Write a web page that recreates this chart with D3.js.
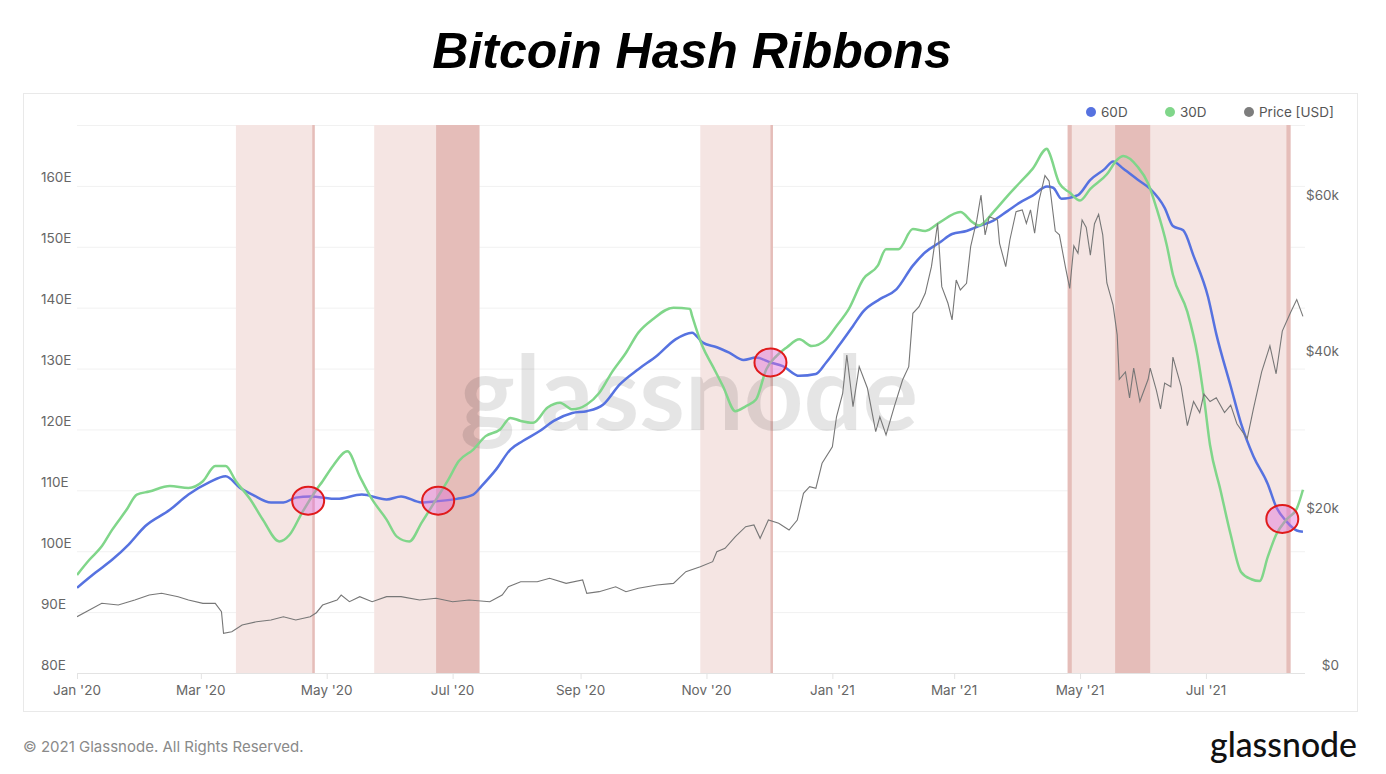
<!DOCTYPE html>
<html lang="en">
<head>
<meta charset="UTF-8">
<title>Bitcoin Hash Ribbons</title>
<script src="https://d3js.org/d3.v7.min.js"></script>
<style>
    body { margin: 0; background: #fff; }
    svg { display: block; }
</style>
</head>
<body>
<svg id="viz"></svg>
<script>
    // hash rate moving averages (EH/s) and price
    var hr60 = [
        ["2020-01-01",94.0],["2020-01-10",96.5],["2020-01-18",98.6],["2020-01-26",101.1],["2020-02-03",104.1],
        ["2020-02-15",106.8],["2020-02-24",109.3],["2020-03-05",111.3],["2020-03-13",112.3],["2020-03-20",110.4],
        ["2020-03-26",109.3],["2020-04-04",108.0],["2020-04-10",108.0],["2020-04-16",108.8],["2020-04-23",109.0],
        ["2020-05-06",108.6],["2020-05-18",109.3],["2020-05-30",108.5],["2020-06-06",109.0],["2020-06-16",108.0],
        ["2020-06-23",108.2],["2020-07-03",108.6],["2020-07-11",109.3],["2020-07-15",110.7],["2020-07-22",113.4],
        ["2020-07-29",116.7],["2020-08-04",118.1],["2020-08-12",119.7],["2020-08-19",121.4],["2020-08-28",122.7],
        ["2020-09-04",123.0],["2020-09-12",124.1],["2020-09-20",127.4],["2020-09-29",129.9],["2020-10-08",132.1],
        ["2020-10-17",134.8],["2020-10-25",135.9],["2020-10-30",134.3],["2020-11-06",133.5],["2020-11-12",132.6],
        ["2020-11-19",131.4],["2020-11-25",131.8],["2020-12-02",131.0],["2020-12-08",130.4],["2020-12-16",128.8],
        ["2020-12-24",129.1],["2020-12-29",131.0],["2021-01-04",133.7],["2021-01-11",137.0],["2021-01-16",139.4],
        ["2021-01-24",141.4],["2021-02-01",143.0],["2021-02-09",146.9],["2021-02-15",149.1],["2021-02-22",150.7],
        ["2021-02-28",152.1],["2021-03-07",152.6],["2021-03-13",153.4],["2021-03-20",154.3],["2021-03-27",155.9],
        ["2021-04-02",157.3],["2021-04-08",158.4],["2021-04-15",159.9],["2021-04-18",159.7],["2021-04-22",157.9],
        ["2021-04-30",158.5],["2021-05-06",161.0],["2021-05-13",162.8],["2021-05-17",164.0],["2021-05-22",162.8],
        ["2021-05-29",161.0],["2021-06-04",159.5],["2021-06-11",156.4],["2021-06-15",153.4],["2021-06-20",152.7],
        ["2021-06-25",148.5],["2021-07-02",141.8],["2021-07-06",135.7],["2021-07-13",127.1],["2021-07-18",121.0],
        ["2021-07-24",115.6],["2021-07-31",111.0],["2021-08-04",107.3],["2021-08-09",104.9],["2021-08-14",103.4],
        ["2021-08-17",103.2]
    ];

    var hr30 = [
        ["2020-01-01",96.1],["2020-01-07",98.6],["2020-01-13",100.8],["2020-01-18",103.5],["2020-01-25",106.8],
        ["2020-01-30",109.3],["2020-02-05",109.8],["2020-02-15",110.7],["2020-02-24",110.4],["2020-03-02",111.5],
        ["2020-03-08",114.0],["2020-03-13",114.0],["2020-03-18",111.5],["2020-03-25",108.5],["2020-03-31",105.2],
        ["2020-04-08",101.6],["2020-04-13",102.7],["2020-04-19",106.3],["2020-04-26",110.1],["2020-04-29",111.5],
        ["2020-05-04",114.0],["2020-05-11",116.4],["2020-05-17",112.3],["2020-05-23",108.5],["2020-05-30",105.2],
        ["2020-06-04",102.4],["2020-06-10",101.6],["2020-06-16",104.7],["2020-06-23",108.5],["2020-06-29",111.8],
        ["2020-07-04",114.8],["2020-07-11",116.7],["2020-07-17",118.9],["2020-07-24",120.0],["2020-07-29",121.9],
        ["2020-08-03",121.4],["2020-08-09",121.1],["2020-08-16",123.6],["2020-08-22",124.4],["2020-08-28",123.3],
        ["2020-09-04",124.1],["2020-09-10",126.0],["2020-09-16",129.3],["2020-09-23",132.6],["2020-09-29",135.9],
        ["2020-10-06",138.1],["2020-10-16",140.0],["2020-10-24",139.8],["2020-10-25",138.7],["2020-10-30",133.7],
        ["2020-11-04",130.4],["2020-11-09",127.1],["2020-11-15",123.0],["2020-11-20",123.8],["2020-11-25",124.9],
        ["2020-11-30",129.9],["2020-12-05",132.1],["2020-12-10",133.5],["2020-12-16",134.8],["2020-12-22",133.7],
        ["2020-12-29",134.8],["2021-01-03",137.0],["2021-01-09",139.8],["2021-01-16",144.7],["2021-01-23",146.9],
        ["2021-01-27",149.6],["2021-02-02",149.6],["2021-02-09",152.9],["2021-02-15",152.6],["2021-02-22",154.0],
        ["2021-03-04",155.7],["2021-03-10",154.0],["2021-03-13",153.5],["2021-03-20",155.7],["2021-03-27",158.4],
        ["2021-04-02",160.6],["2021-04-08",162.8],["2021-04-15",166.1],["2021-04-16",165.5],["2021-04-21",160.4],
        ["2021-04-26",158.9],["2021-05-01",157.6],["2021-05-06",159.5],["2021-05-14",161.9],["2021-05-19",164.3],
        ["2021-05-22",164.9],["2021-05-29",163.1],["2021-06-03",160.4],["2021-06-07",156.4],["2021-06-12",150.3],
        ["2021-06-15",145.4],["2021-06-22",139.3],["2021-06-27",132.0],["2021-06-30",125.3],["2021-07-03",117.4],
        ["2021-07-08",110.1],["2021-07-13",102.7],["2021-07-18",96.6],["2021-07-23",95.4],["2021-07-27",95.1],
        ["2021-07-31",99.1],["2021-08-04",102.7],["2021-08-09",105.2],["2021-08-14",107.0],["2021-08-17",110.1]
    ];

    var price = [
        ["2020-01-01",7190],["2020-01-07",8050],["2020-01-13",8900],["2020-01-21",8680],["2020-01-29",9320],
        ["2020-02-05",9960],["2020-02-11",10180],["2020-02-19",9750],["2020-02-24",9320],["2020-03-02",8900],
        ["2020-03-08",8900],["2020-03-11",7830],["2020-03-12",5070],["2020-03-16",5280],["2020-03-21",6130],
        ["2020-03-28",6550],["2020-04-04",6770],["2020-04-10",7190],["2020-04-16",6770],["2020-04-23",7190],
        ["2020-04-26",7700],["2020-04-29",8680],["2020-05-06",9320],["2020-05-08",9960],["2020-05-12",9110],
        ["2020-05-17",9750],["2020-05-23",9110],["2020-05-30",9750],["2020-06-06",9750],["2020-06-15",9320],
        ["2020-06-23",9540],["2020-07-01",9110],["2020-07-09",9320],["2020-07-19",9110],["2020-07-25",9960],
        ["2020-07-28",11020],["2020-08-03",11660],["2020-08-11",11660],["2020-08-17",12100],["2020-08-25",11450],
        ["2020-09-02",11880],["2020-09-04",10180],["2020-09-10",10390],["2020-09-18",11020],["2020-09-23",10390],
        ["2020-09-29",10820],["2020-10-08",11240],["2020-10-16",11450],["2020-10-22",12940],["2020-10-29",13580],
        ["2020-11-04",14220],["2020-11-06",15490],["2020-11-10",15930],["2020-11-15",17410],["2020-11-20",18690],
        ["2020-11-24",18910],["2020-11-27",17200],["2020-12-01",19540],["2020-12-06",19120],["2020-12-11",18260],
        ["2020-12-15",19540],["2020-12-18",22950],["2020-12-21",23800],["2020-12-24",23590],["2020-12-27",26790],
        ["2021-01-01",28900],["2021-01-03",32730],["2021-01-06",35730],["2021-01-08",40620],["2021-01-11",34020],
        ["2021-01-14",39130],["2021-01-18",36370],["2021-01-22",30830],["2021-01-24",32730],["2021-01-27",30400],
        ["2021-01-31",34020],["2021-02-04",37430],["2021-02-07",39130],["2021-02-09",45940],["2021-02-12",46800],
        ["2021-02-15",48500],["2021-02-18",51900],["2021-02-21",57440],["2021-02-23",49350],["2021-02-26",47230],
        ["2021-02-28",45100],["2021-03-02",50200],["2021-03-04",48930],["2021-03-07",49780],["2021-03-09",54460],
        ["2021-03-12",57870],["2021-03-14",61060],["2021-03-16",55950],["2021-03-18",58290],["2021-03-22",57870],
        ["2021-03-23",54890],["2021-03-26",51900],["2021-03-28",55310],["2021-03-31",58930],["2021-04-03",59150],
        ["2021-04-05",57440],["2021-04-07",59150],["2021-04-09",56170],["2021-04-11",60230],["2021-04-14",63540],
        ["2021-04-16",62840],["2021-04-19",56450],["2021-04-21",55970],["2021-04-24",51740],["2021-04-26",49120],
        ["2021-04-28",54560],["2021-04-30",53620],["2021-05-02",57870],["2021-05-04",56920],["2021-05-06",53370],
        ["2021-05-08",57390],["2021-05-10",58580],["2021-05-12",55970],["2021-05-14",49820],["2021-05-17",46990],
        ["2021-05-19",43200],["2021-05-20",37520],["2021-05-23",38460],["2021-05-25",35150],["2021-05-27",38950],
        ["2021-05-30",34680],["2021-06-03",37520],["2021-06-04",38950],["2021-06-07",36100],["2021-06-09",33730],
        ["2021-06-11",37040],["2021-06-14",36570],["2021-06-15",40360],["2021-06-19",36570],["2021-06-22",31600],
        ["2021-06-25",34680],["2021-06-28",33260],["2021-06-30",35630],["2021-07-03",34680],["2021-07-06",35150],
        ["2021-07-10",33260],["2021-07-13",34210],["2021-07-16",31840],["2021-07-21",29950],["2021-07-24",33730],
        ["2021-07-28",38460],["2021-08-01",41780],["2021-08-04",38220],["2021-08-07",43670],["2021-08-11",46040],
        ["2021-08-14",47700],["2021-08-17",45560]
    ];

    // capitulation periods (light) and recovery / signal periods (dark)
    var lightBands = [["2020-03-18","2020-04-25"],["2020-05-24","2020-07-14"],
                      ["2020-10-29","2020-12-03"],["2021-04-25","2021-08-11"]];
    var darkBands = [["2020-04-24","2020-04-25"],["2020-06-23","2020-07-14"],["2020-12-02","2020-12-03"],
                     ["2021-04-25","2021-04-27"],["2021-05-18","2021-06-04"],["2021-08-09","2021-08-11"]];

    // circled crossings of the two ribbons
    var crossDates = ["2020-04-22","2020-06-24","2020-12-02","2021-08-07"];
    var crossValues = [108.3, 108.3, 131.0, 105.3];

    var hashTicks = [80, 90, 100, 110, 120, 130, 140, 150, 160];
    var priceTicks = [0, 20000, 40000, 60000];
    var legendNames = ["60D", "30D", "Price [USD]"];
    var legendColors = ["#5672e0", "#80d68a", "#7d7d7d"];

    var W = 1386, H = 774;
    var plotLeft = 77, plotRight = 1305, plotTop = 125, plotBottom = 673;
    var parse = d3.timeParse("%Y-%m-%d");
    var font = "Inter, 'Noto Sans', sans-serif";

    var svg = d3.select('#viz').attr('width', W).attr('height', H);

    var x = d3.scaleTime()
        .domain([parse("2020-01-01"), parse("2021-08-18")])
        .range([plotLeft, plotRight]);
    var y = d3.scaleLinear().domain([80, 170]).range([plotBottom, plotTop]);
    var yp = d3.scaleLinear().domain([0, 70000]).range([plotBottom, plotTop]);

    // card frame
    svg.append('rect')
        .attr('x', 23.5).attr('y', 93.5).attr('width', 1334).attr('height', 618)
        .attr('fill', '#fff').attr('stroke', '#e9e9e9');

    // title
    svg.append('text')
        .attr('x', 692).attr('y', 68)
        .attr('text-anchor', 'middle')
        .style('font-family', "'Liberation Sans', Arial, sans-serif")
        .style('font-weight', 'bold').style('font-style', 'italic')
        .style('font-size', '50px').attr('fill', '#000')
        .text('Bitcoin Hash Ribbons');

    // grid
    svg.append('g').selectAll('line')
        .data(d3.range(80, 171, 10))
        .enter().append('line')
        .attr('x1', plotLeft).attr('x2', plotRight)
        .attr('y1', function (d) { return y(d) + 0.5; })
        .attr('y2', function (d) { return y(d) + 0.5; })
        .attr('stroke', function (d) { return d === 80 ? '#e3e3e3' : '#f1f1f1'; });

    // bands
    svg.append('g').selectAll('rect')
        .data(lightBands)
        .enter().append('rect')
        .attr('x', function (d) { return x(parse(d[0])); })
        .attr('width', function (d) { return x(parse(d[1])) - x(parse(d[0])); })
        .attr('y', plotTop).attr('height', plotBottom - plotTop)
        .attr('fill', '#f5e5e3');

    svg.append('g').selectAll('rect')
        .data(darkBands)
        .enter().append('rect')
        .attr('x', function (d) { return x(parse(d[0])); })
        .attr('width', function (d) { return Math.max(2.5, x(parse(d[1])) - x(parse(d[0]))); })
        .attr('y', plotTop).attr('height', plotBottom - plotTop)
        .attr('fill', '#e5bdb9');

    // watermark
    svg.append('text')
        .attr('x', 460).attr('y', 430)
        .attr('textLength', 458).attr('lengthAdjust', 'spacingAndGlyphs')
        .style('font-family', "Lato, 'Noto Sans', sans-serif")
        .style('font-size', '104px').style('font-weight', 'bold')
        .attr('fill', '#000').attr('fill-opacity', 0.1)
        .text('glassnode');

    // tick marks and axis labels
    var xTicks = x.ticks(d3.timeMonth.every(2));
    var fmt = d3.timeFormat("%b '%y");
    svg.append('g').selectAll('line')
        .data(xTicks)
        .enter().append('line')
        .attr('x1', function (d) { return x(d) + 0.5; })
        .attr('x2', function (d) { return x(d) + 0.5; })
        .attr('y1', plotBottom).attr('y2', plotBottom + 6)
        .attr('stroke', '#e3e3e3');

    svg.append('g').selectAll('text')
        .data(xTicks)
        .enter().append('text')
        .attr('x', function (d) { return x(d); })
        .attr('y', 695)
        .attr('text-anchor', 'middle')
        .style('font-family', font).style('font-size', '13.5px')
        .attr('fill', '#666')
        .text(function (d) { return fmt(d); });

    svg.append('g').selectAll('text')
        .data(hashTicks)
        .enter().append('text')
        .attr('x', 41)
        .attr('y', function (d) { return y(d) - 3.5; })
        .style('font-family', font).style('font-size', '13.5px')
        .attr('fill', '#666')
        .text(function (d) { return d + 'E'; });

    svg.append('g').selectAll('text')
        .data(priceTicks)
        .enter().append('text')
        .attr('x', 1339)
        .attr('y', function (d) { return yp(d) - 3.5; })
        .attr('text-anchor', 'end')
        .style('font-family', font).style('font-size', '13.5px')
        .attr('fill', '#666')
        .text(function (d) { return d === 0 ? '$0' : '$' + (d / 1000) + 'k'; });

    // series
    svg.append('clipPath').attr('id', 'plot')
        .append('rect').attr('x', plotLeft).attr('y', plotTop)
        .attr('width', plotRight - plotLeft).attr('height', plotBottom - plotTop);

    var hashLine = d3.line()
        .x(function (d) { return x(parse(d[0])); })
        .y(function (d) { return y(d[1]); })
        .curve(d3.curveMonotoneX);
    var priceLine = d3.line()
        .x(function (d) { return x(parse(d[0])); })
        .y(function (d) { return yp(d[1]); });

    var lines = svg.append('g').attr('clip-path', 'url(#plot)');
    lines.append('path').datum(hr60).attr('d', hashLine)
        .attr('fill', 'none').attr('stroke', legendColors[0]).attr('stroke-width', 2.5);
    lines.append('path').datum(hr30).attr('d', hashLine)
        .attr('fill', 'none').attr('stroke', legendColors[1]).attr('stroke-width', 2.5);
    lines.append('path').datum(price).attr('d', priceLine)
        .attr('fill', 'none').attr('stroke', '#777').attr('stroke-width', 1.1);

    // circled crossings
    svg.append('g').selectAll('ellipse')
        .data(crossDates)
        .enter().append('ellipse')
        .attr('cx', function (d) { return x(parse(d)); })
        .attr('cy', function (d, i) { return y(crossValues[i]); })
        .attr('rx', 16).attr('ry', 14)
        .attr('fill', '#e070d8').attr('fill-opacity', 0.45)
        .attr('stroke', '#e01b1b').attr('stroke-width', 2);

    // legend
    var legend = svg.append('g').selectAll('g')
        .data(legendNames)
        .enter().append('g')
        .attr('transform', function (d, i) { return 'translate(' + (1091 + i * 79) + ',112)'; });
    legend.append('circle').attr('r', 5)
        .attr('fill', function (d, i) { return legendColors[i]; });
    legend.append('text').attr('x', 10).attr('y', 5)
        .style('font-family', font).style('font-size', '13.5px')
        .attr('fill', '#555')
        .text(function (d) { return d; });

    // footer
    svg.append('text')
        .attr('x', 23).attr('y', 752)
        .style('font-family', font).style('font-size', '15px')
        .attr('fill', '#8a8a8a')
        .text('\u00a9 2021 Glassnode. All Rights Reserved.');

    svg.append('text')
        .attr('x', 1210).attr('y', 757)
        .attr('textLength', 147).attr('lengthAdjust', 'spacingAndGlyphs')
        .style('font-family', "Lato, 'Noto Sans', sans-serif")
        .style('font-size', '34px').style('font-weight', 500)
        .attr('fill', '#111')
        .text('glassnode');
</script>
</body>
</html>
